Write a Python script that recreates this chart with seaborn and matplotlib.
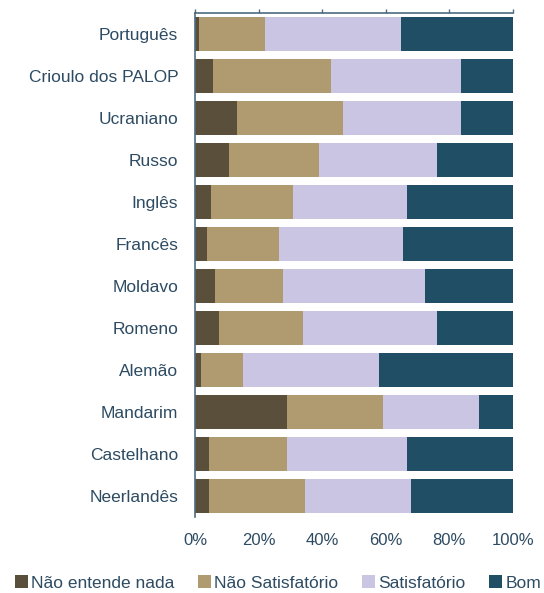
import matplotlib
matplotlib.use("Agg")
import matplotlib.pyplot as plt
from matplotlib.patches import Patch
import numpy as np
import pandas as pd
import seaborn as sns

# Language groups (top to bottom) and rating shares in percent
idiomas = ["Português", "Crioulo dos PALOP", "Ucraniano", "Russo", "Inglês",
           "Francês", "Moldavo", "Romeno", "Alemão", "Mandarim",
           "Castelhano", "Neerlandês"]
nao_entende = [1.2, 5.6, 13.1, 10.6, 4.9, 3.7, 6.2, 7.4, 1.8, 28.8, 4.3, 4.3]
nao_satisf = [20.7, 37.1, 33.3, 28.3, 25.8, 22.6, 21.4, 26.5, 13.2, 30.2, 24.5, 30.2]
satisf = [42.8, 40.8, 37.1, 37.1, 35.9, 39.0, 44.6, 42.1, 42.8, 30.2, 37.8, 33.3]
bom = [35.3, 16.5, 16.5, 24.0, 33.4, 34.7, 27.8, 24.0, 42.2, 10.8, 33.4, 32.2]

series = ["Não entende nada", "Não Satisfatório", "Satisfatório", "Bom"]
colors = ["#5a4f3b", "#b09b71", "#c9c5e2", "#204f65"]
text_color = "#2d4b62"
axis_color = "#4d6b80"

df = pd.DataFrame({"idioma": idiomas,
                   series[0]: nao_entende, series[1]: nao_satisf,
                   series[2]: satisf, series[3]: bom})
cum = df[series].cumsum(axis=1)

sns.set_style("white")
plt.rcParams["font.family"] = ["Liberation Sans", "DejaVu Sans"]

fig = plt.figure(figsize=(5.44, 5.93), dpi=100)
ax = fig.add_axes([195 / 544, 1 - 517 / 593, 318 / 544, 504 / 593])

# stacked bars: draw cumulative totals from the outermost segment inwards
for name, col in reversed(list(zip(series, colors))):
    sns.barplot(x=cum[name], y=df["idioma"], orient="h", color=col,
                saturation=1, width=0.81, ax=ax, linewidth=0)

ax.set_xlim(0, 100)
ax.set_ylim(len(idiomas) - 0.5, -0.5)
ax.set_xlabel("")
ax.set_ylabel("")

ax.set_xticks(np.arange(0, 101, 20))
ax.set_xticklabels([f"{v}%" for v in range(0, 101, 20)])
ax.tick_params(axis="x", bottom=False, top=True, labelbottom=True,
               labeltop=False, direction="out", length=3, width=1,
               color=axis_color, labelsize=12, labelcolor=text_color, pad=8.5)

ax.set_yticks(np.arange(len(idiomas)))
ax.set_yticks(np.arange(len(idiomas) + 1) - 0.5, minor=True)
ax.tick_params(axis="y", which="major", length=0, labelsize=12.5,
               labelcolor=text_color, pad=12)
ax.tick_params(axis="y", which="minor", length=5, width=1.2,
               color=axis_color, direction="out")

for side in ["bottom", "right"]:
    ax.spines[side].set_visible(False)
for side in ["top", "left"]:
    ax.spines[side].set_visible(True)
    ax.spines[side].set_color(axis_color)
    ax.spines[side].set_linewidth(1.2)

handles = [Patch(facecolor=c, edgecolor="none", label=s)
           for s, c in zip(series, colors)]
fig.legend(handles=handles, loc="center", bbox_to_anchor=(278 / 544, 1 - 583 / 593),
           ncol=4, frameon=False, fontsize=12.5, handlelength=0.75,
           handleheight=0.75, handletextpad=0.2, columnspacing=1.35,
           labelcolor=text_color, borderaxespad=0, borderpad=0)

fig.savefig("out.png", dpi=100)
